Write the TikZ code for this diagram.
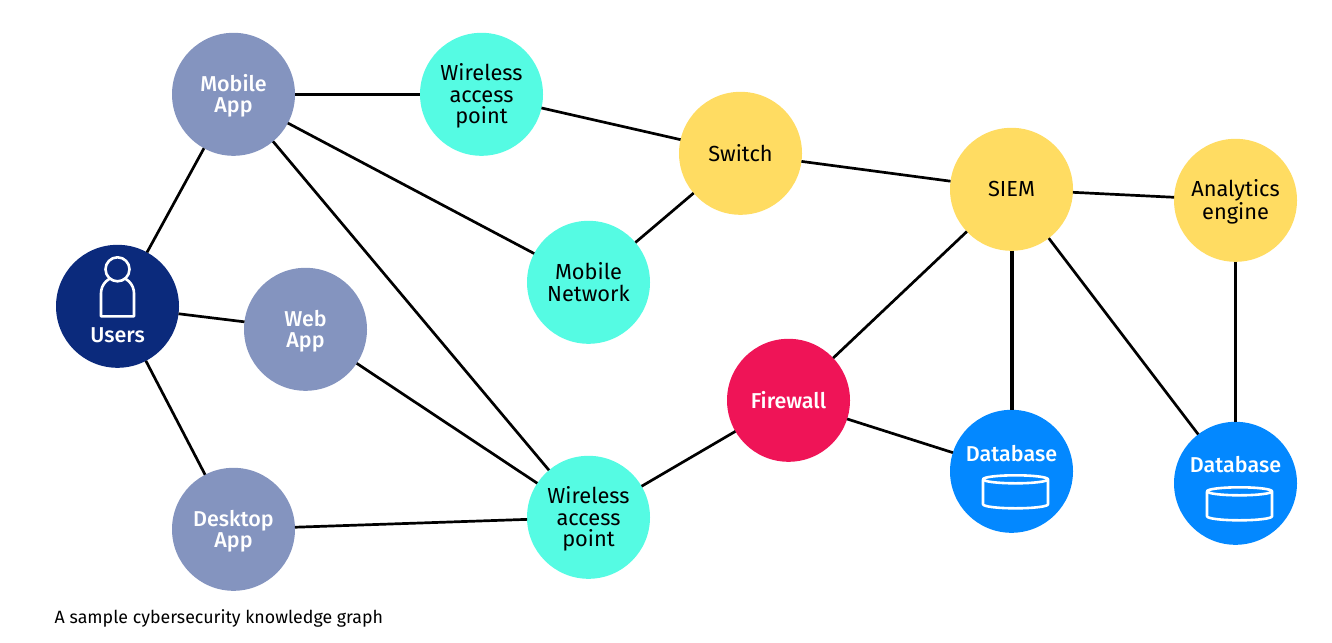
\documentclass[tikz,border=0pt]{standalone}
\usepackage{fontspec}
\setmainfont{Fira Sans}
\newfontfamily\medfont{Fira Sans Medium}
\newcommand{\lowerline}{\rule{0pt}{20.5pt}}
\definecolor{navy}{HTML}{0B2A7C}
\definecolor{peri}{HTML}{8494BF}
\definecolor{aqua}{HTML}{55FBE3}
\definecolor{sun}{HTML}{FFDC62}
\definecolor{crim}{HTML}{EF1457}
\definecolor{azure}{HTML}{0388FF}
\tikzset{
  vertex/.style={circle,minimum size=123pt,inner sep=0pt,outer sep=0pt,align=center},
  lightv/.style={vertex,text=white,font=\medfont\fontsize{21.5}{21.5}\selectfont},
  darkv/.style={vertex,text=black,font=\fontsize{21.8}{21.5}\selectfont},
  link/.style={line width=2.7pt,black},
  heavy/.style={line width=4pt,black},
  icon/.style={draw=white,line width=2.6pt,line join=round},
  tag/.style={text=white,inner sep=0pt,font=\medfont\fontsize{21.5}{21.5}\selectfont},
}
\begin{document}
\begin{tikzpicture}[x=1pt,y=-1pt]
\useasboundingbox (-0.5,-0.3) rectangle (1331.5,641.7);
\node[lightv,fill=navy] (users) at (117,306) {};
\node[lightv,fill=peri] (mobile) at (233,94) {\lowerline Mobile\\App};
\node[lightv,fill=peri] (web) at (305,329) {\lowerline Web\\App};
\node[lightv,fill=peri] (desktop) at (233,529) {\lowerline Desktop\\App};
\node[darkv,fill=aqua] (wapa) at (481,94) {\lowerline Wireless\\access\\point};
\node[darkv,fill=aqua] (mnet) at (588,282) {Mobile\\Network};
\node[darkv,fill=aqua] (wapb) at (588,517) {\lowerline Wireless\\access\\point};
\node[darkv,fill=sun] (switch) at (740,153) {Switch};
\node[darkv,fill=sun] (siem) at (1011,189) {SIEM};
\node[darkv,fill=sun] (analytics) at (1235,200) {\lowerline Analytics\\engine};
\node[lightv,fill=crim] (firewall) at (788,400) {Firewall};
\node[lightv,fill=azure] (dba) at (1011,471) {};
\node[lightv,fill=azure] (dbb) at (1235,483) {};
\draw[link] (users)--(mobile);
\draw[link] (users)--(web);
\draw[link] (users)--(desktop);
\draw[link] (mobile)--(wapa);
\draw[link] (mobile)--(mnet);
\draw[link] (mobile)--(wapb);
\draw[link] (web)--(wapb);
\draw[link] (desktop)--(wapb);
\draw[link] (wapa)--(switch);
\draw[link] (mnet)--(switch);
\draw[link] (switch)--(siem);
\draw[link] (siem)--(analytics);
\draw[link] (siem)--(firewall);
\draw[heavy] (siem)--(dba);
\draw[link] (siem)--(dbb);
\draw[link] (analytics)--(dbb);
\draw[link] (firewall)--(dba);
\draw[link] (firewall)--(wapb);
% Users icon
\draw[icon] (100.5,316) -- (100.5,293) arc[start angle=180,end angle=0,x radius=16.5,y radius=-16.5] -- (133.5,316) -- cycle;
\draw[icon,fill=navy] (117,269) circle[radius=12];
\node[tag] (userslabel) at (117,335) {Users};
% Database icons
\node[tag] (dbalabel) at (1011,453.5) {Database};
\draw[icon] (982.5,479) -- (982.5,504) arc[start angle=180,end angle=360,x radius=32.5,y radius=-4] -- (1047.5,479);
\draw[icon] (1015,479) ellipse[x radius=32.5,y radius=4];
\node[tag] (dbblabel) at (1235,464.5) {Database};
\draw[icon] (1206.5,491) -- (1206.5,516) arc[start angle=180,end angle=360,x radius=32.5,y radius=-4] -- (1271.5,491);
\draw[icon] (1239,491) ellipse[x radius=32.5,y radius=4];
\node[anchor=west,inner sep=0pt,font=\fontsize{17.8}{18}\selectfont] (caption) at (54,618.5) {A sample cybersecurity knowledge graph};
\end{tikzpicture}
\end{document}
